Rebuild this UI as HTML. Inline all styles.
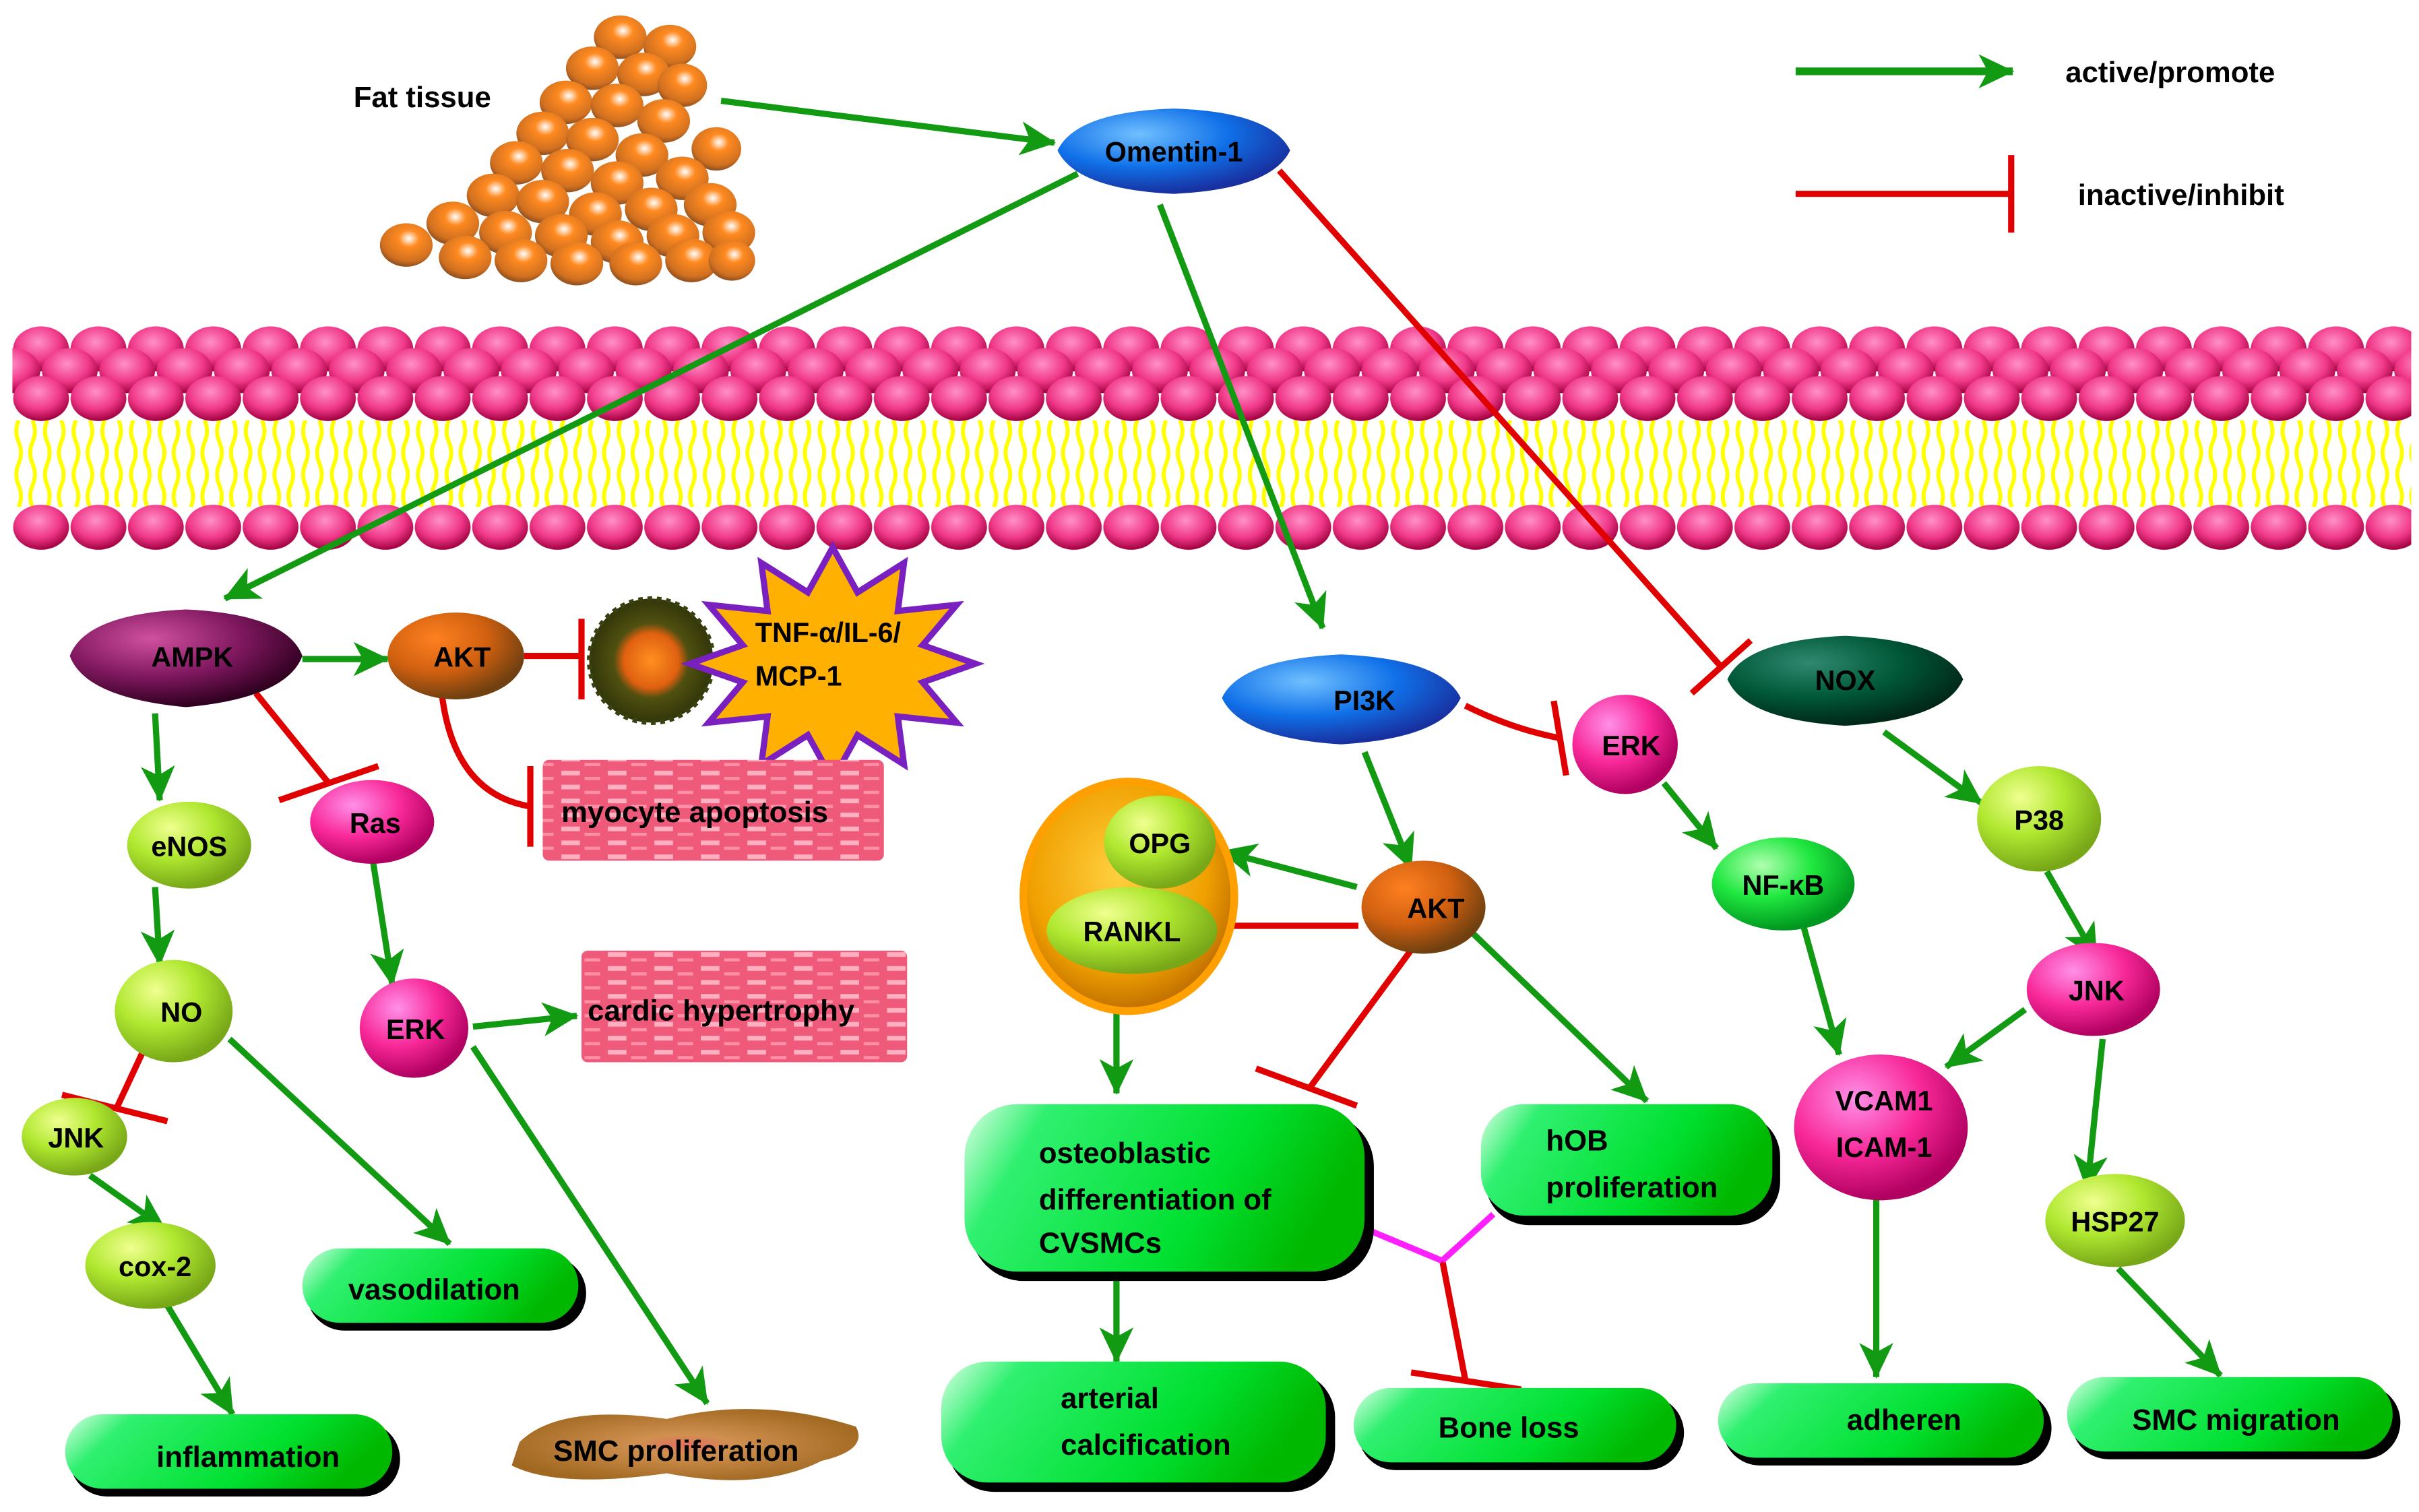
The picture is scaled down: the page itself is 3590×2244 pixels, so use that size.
<!DOCTYPE html>
<html><head><meta charset="utf-8"><style>
html,body{margin:0;padding:0;background:#fff;}
svg{display:block;}
text{font-family:"Liberation Sans",Arial,sans-serif;font-weight:bold;fill:#000;}
</style></head><body>
<svg width="3590" height="2244" viewBox="0 0 1560 975" preserveAspectRatio="none" xmlns="http://www.w3.org/2000/svg">
<defs>
<radialGradient id="ball" cx="45%" cy="35%" r="65%"><stop offset="0" stop-color="#ff90c8"/><stop offset="0.6" stop-color="#f03888"/><stop offset="1" stop-color="#a00040"/></radialGradient>
<radialGradient id="fat" cx="55%" cy="35%" r="65%"><stop offset="0" stop-color="#ffffff"/><stop offset="0.3" stop-color="#ff8a20"/><stop offset="0.8" stop-color="#d07020"/><stop offset="1" stop-color="#905020"/></radialGradient>
<pattern id="heads" patternUnits="userSpaceOnUse" x="8" y="205" width="37" height="90">
<ellipse cx="18.5" cy="20" rx="18" ry="14.5" fill="url(#ball)"/>
<ellipse cx="0" cy="34" rx="18" ry="14.5" fill="url(#ball)"/>
<ellipse cx="37" cy="34" rx="18" ry="14.5" fill="url(#ball)"/>
<ellipse cx="18.5" cy="52" rx="18" ry="14.5" fill="url(#ball)"/>
</pattern>
<pattern id="heads2" patternUnits="userSpaceOnUse" x="8" y="320" width="37" height="45">
<ellipse cx="18.5" cy="20" rx="18" ry="14.5" fill="url(#ball)"/>
</pattern>
<pattern id="tails" patternUnits="userSpaceOnUse" x="8" y="271" width="18.5" height="56">
<path d="M4,0 Q1,7 4,14 Q7,21 4,28 Q1,35 4,42 Q7,49 4,56" stroke="#ffff00" stroke-width="2.6" fill="none"/>
<path d="M13,0 Q16,7 13,14 Q10,21 13,28 Q16,35 13,42 Q10,49 13,56" stroke="#ffff00" stroke-width="2.6" fill="none"/>
</pattern>
<pattern id="muscle" patternUnits="userSpaceOnUse" width="30" height="9">
<rect width="30" height="9" fill="#f05a7a"/>
<rect x="2" y="2" width="12" height="3" fill="#ffb0c0"/>
<rect x="17" y="6" width="10" height="2" fill="#ff90a8"/>
</pattern>
<radialGradient id="gBlue" cx="35%" cy="30%" r="70%"><stop offset="0" stop-color="#70c0ff"/><stop offset="0.55" stop-color="#1070e8"/><stop offset="1" stop-color="#1830a0"/></radialGradient>
<radialGradient id="gPur" cx="35%" cy="30%" r="70%"><stop offset="0" stop-color="#d050a0"/><stop offset="0.55" stop-color="#801860"/><stop offset="1" stop-color="#300020"/></radialGradient>
<radialGradient id="gOra" cx="35%" cy="30%" r="70%"><stop offset="0" stop-color="#ff8020"/><stop offset="0.55" stop-color="#d06010"/><stop offset="1" stop-color="#704010"/></radialGradient>
<radialGradient id="gYg" cx="35%" cy="30%" r="70%"><stop offset="0" stop-color="#f0ff90"/><stop offset="0.5" stop-color="#b0e830"/><stop offset="1" stop-color="#78a818"/></radialGradient>
<radialGradient id="gPink" cx="35%" cy="30%" r="70%"><stop offset="0" stop-color="#ff90e8"/><stop offset="0.55" stop-color="#f82898"/><stop offset="1" stop-color="#b00060"/></radialGradient>
<radialGradient id="gGrn" cx="35%" cy="30%" r="70%"><stop offset="0" stop-color="#b0ffb0"/><stop offset="0.5" stop-color="#20e840"/><stop offset="1" stop-color="#009820"/></radialGradient>
<radialGradient id="gDk" cx="35%" cy="30%" r="70%"><stop offset="0" stop-color="#308870"/><stop offset="0.55" stop-color="#005838"/><stop offset="1" stop-color="#002818"/></radialGradient>
<radialGradient id="gOC" cx="45%" cy="40%" r="60%"><stop offset="0" stop-color="#ffd040"/><stop offset="0.7" stop-color="#f0a000"/><stop offset="1" stop-color="#c07000"/></radialGradient>
<radialGradient id="gCell" cx="50%" cy="50%" r="55%"><stop offset="0" stop-color="#ff9020"/><stop offset="0.4" stop-color="#e06010"/><stop offset="0.55" stop-color="#505010"/><stop offset="1" stop-color="#2a3008"/></radialGradient>
<radialGradient id="gSmc" cx="50%" cy="50%" r="55%"><stop offset="0" stop-color="#e07060"/><stop offset="0.25" stop-color="#d09050"/><stop offset="1" stop-color="#a06820"/></radialGradient>
<linearGradient id="box" x1="0" y1="0" x2="1" y2="0.25"><stop offset="0" stop-color="#e0ffe8"/><stop offset="0.2" stop-color="#30f070"/><stop offset="0.7" stop-color="#00e030"/><stop offset="1" stop-color="#00b800"/></linearGradient>
<marker id="ah" markerUnits="userSpaceOnUse" markerWidth="30" markerHeight="26" refX="22" refY="11" orient="auto">
<path d="M0,0 L23,11 L0,22 L6,11 Z" fill="#139a13"/>
</marker>
</defs>

<!-- membrane -->
<rect x="8" y="271" width="1547" height="56" fill="url(#tails)"/>
<rect x="8" y="205" width="1547" height="82" fill="url(#heads)"/>
<rect x="8" y="324" width="1547" height="34" fill="url(#heads2)"/>

<!-- fat tissue -->
<g fill="url(#fat)">
<ellipse cx="400" cy="24" rx="17" ry="14"/><ellipse cx="432" cy="30" rx="17" ry="14"/>
<ellipse cx="382" cy="44" rx="17" ry="14"/><ellipse cx="415" cy="48" rx="17" ry="14"/><ellipse cx="440" cy="55" rx="16" ry="14"/>
<ellipse cx="365" cy="66" rx="17" ry="14"/><ellipse cx="398" cy="68" rx="17" ry="14"/><ellipse cx="428" cy="78" rx="17" ry="14"/>
<ellipse cx="350" cy="86" rx="17" ry="14"/><ellipse cx="382" cy="90" rx="17" ry="14"/><ellipse cx="414" cy="100" rx="17" ry="14"/><ellipse cx="462" cy="96" rx="16" ry="14"/>
<ellipse cx="333" cy="105" rx="17" ry="14"/><ellipse cx="366" cy="110" rx="17" ry="14"/><ellipse cx="398" cy="118" rx="17" ry="14"/><ellipse cx="440" cy="115" rx="17" ry="14"/>
<ellipse cx="318" cy="126" rx="17" ry="14"/><ellipse cx="350" cy="130" rx="17" ry="14"/><ellipse cx="384" cy="138" rx="17" ry="14"/><ellipse cx="420" cy="135" rx="17" ry="14"/><ellipse cx="458" cy="132" rx="17" ry="14"/>
<ellipse cx="292" cy="144" rx="17" ry="14"/><ellipse cx="326" cy="150" rx="17" ry="14"/><ellipse cx="362" cy="152" rx="17" ry="14"/><ellipse cx="398" cy="156" rx="17" ry="14"/><ellipse cx="434" cy="152" rx="17" ry="14"/><ellipse cx="470" cy="150" rx="17" ry="14"/>
<ellipse cx="262" cy="158" rx="17" ry="14"/><ellipse cx="300" cy="166" rx="17" ry="14"/><ellipse cx="336" cy="168" rx="17" ry="14"/><ellipse cx="372" cy="170" rx="17" ry="14"/><ellipse cx="410" cy="170" rx="17" ry="14"/><ellipse cx="446" cy="168" rx="17" ry="14"/><ellipse cx="472" cy="168" rx="15" ry="13"/>
</g>
<text x="228" y="69" font-size="19">Fat tissue</text>

<!-- legend -->
<line x1="1158" y1="46" x2="1298" y2="46" stroke="#139a13" stroke-width="5" marker-end="url(#ah)"/>
<text x="1332" y="53" font-size="19">active/promote</text>
<line x1="1158" y1="125" x2="1296" y2="125" stroke="#e00000" stroke-width="4"/>
<line x1="1297" y1="100" x2="1297" y2="150" stroke="#e00000" stroke-width="4"/>
<text x="1340" y="132" font-size="19">inactive/inhibit</text>

<!-- connectors -->
<g stroke="#139a13" stroke-width="4" fill="none" marker-end="url(#ah)">
<line x1="465" y1="65" x2="680" y2="92"/>
<line x1="695" y1="112" x2="145" y2="386"/>
<line x1="748" y1="132" x2="853" y2="405"/>
<line x1="195" y1="425" x2="250" y2="425"/>
<line x1="100" y1="460" x2="103" y2="516"/>
<line x1="100" y1="572" x2="103" y2="622"/>
<line x1="240" y1="552" x2="253" y2="635"/>
<line x1="305" y1="662" x2="372" y2="655"/>
<line x1="305" y1="675" x2="456" y2="905"/>
<line x1="58" y1="758" x2="106" y2="792"/>
<line x1="148" y1="670" x2="290" y2="802"/>
<line x1="108" y1="842" x2="150" y2="912"/>
<line x1="880" y1="485" x2="910" y2="560"/>
<line x1="875" y1="572" x2="788" y2="549"/>
<line x1="720" y1="645" x2="720" y2="705"/>
<line x1="950" y1="602" x2="1062" y2="710"/>
<line x1="720" y1="820" x2="720" y2="878"/>
<line x1="1073" y1="505" x2="1107" y2="547"/>
<line x1="1163" y1="597" x2="1186" y2="680"/>
<line x1="1215" y1="472" x2="1278" y2="518"/>
<line x1="1320" y1="562" x2="1352" y2="618"/>
<line x1="1306" y1="651" x2="1255" y2="688"/>
<line x1="1356" y1="670" x2="1346" y2="767"/>
<line x1="1366" y1="818" x2="1432" y2="887"/>
<line x1="1210" y1="770" x2="1210" y2="888"/>
</g>
<g stroke="#e00000" stroke-width="4" fill="none">
<line x1="825" y1="110" x2="1110" y2="430"/><line x1="1091" y1="447" x2="1129" y2="413"/>
<line x1="338" y1="423" x2="375" y2="423"/><line x1="375" y1="399" x2="375" y2="451"/>
<line x1="165" y1="447" x2="212" y2="505"/><line x1="180" y1="516" x2="244" y2="494"/>
<path d="M285,448 Q293,512 342,520"/><line x1="342" y1="494" x2="342" y2="546"/>
<line x1="95" y1="672" x2="75" y2="715"/><line x1="40" y1="706" x2="108" y2="723"/>
<path d="M945,455 Q975,470 1006,476"/><line x1="1002" y1="452" x2="1010" y2="500"/>
<line x1="876" y1="597" x2="784" y2="597"/><line x1="784" y1="574" x2="784" y2="621"/>
<line x1="912" y1="610" x2="845" y2="701"/><line x1="810" y1="689" x2="875" y2="713"/>
<line x1="930" y1="812" x2="945" y2="890"/><line x1="910" y1="885" x2="981" y2="896"/>
</g>
<g stroke="#ff20ff" stroke-width="4" fill="none">
<line x1="882" y1="793" x2="930" y2="813"/><line x1="963" y1="783" x2="930" y2="813"/>
</g>

<!-- nodes -->
<path d="M757,70 Q820,72 832,97 Q820,122 757,125 Q694,122 682,97 Q694,72 757,70Z" fill="url(#gBlue)"/>
<text x="757" y="104" font-size="18" text-anchor="middle">Omentin-1</text>

<path d="M120,393 Q185,396 195,423 Q185,450 120,456 Q55,450 45,423 Q55,396 120,393Z" fill="url(#gPur)"/>
<text x="124" y="430" font-size="18" text-anchor="middle">AMPK</text>
<ellipse cx="294" cy="423" rx="44" ry="28" fill="url(#gOra)"/>
<text x="298" y="430" font-size="18" text-anchor="middle">AKT</text>

<circle cx="420" cy="426" r="40" fill="url(#gCell)" stroke="#3a4010" stroke-width="3" stroke-dasharray="3 3"/>
<polygon points="629,428 595,440 617,466 579,462 583,493 553,474 537,503 521,474 491,493 495,462 457,466 479,440 445,428 479,416 457,390 495,394 491,363 521,382 537,353 553,382 583,363 579,394 617,390 595,416" fill="#ffb000" stroke="#7a20c0" stroke-width="4" stroke-linejoin="miter"/>
<text x="487" y="414" font-size="18">TNF-α/IL-6/</text>
<text x="487" y="442" font-size="18">MCP-1</text>

<rect x="350" y="490" width="220" height="65" rx="4" fill="url(#muscle)"/>
<text x="362" y="530" font-size="19">myocyte apoptosis</text>
<rect x="375" y="613" width="210" height="72" rx="4" fill="url(#muscle)"/>
<text x="379" y="658" font-size="19">cardic hypertrophy</text>

<ellipse cx="122" cy="545" rx="40" ry="28" fill="url(#gYg)"/>
<text x="122" y="552" font-size="18" text-anchor="middle">eNOS</text>
<ellipse cx="240" cy="530" rx="40" ry="27" fill="url(#gPink)"/>
<text x="242" y="537" font-size="18" text-anchor="middle">Ras</text>
<ellipse cx="112" cy="652" rx="38" ry="33" fill="url(#gYg)"/>
<text x="117" y="659" font-size="18" text-anchor="middle">NO</text>
<ellipse cx="267" cy="663" rx="35" ry="32" fill="url(#gPink)"/>
<text x="268" y="670" font-size="18" text-anchor="middle">ERK</text>
<ellipse cx="48" cy="733" rx="34" ry="25" fill="url(#gYg)"/>
<text x="49" y="740" font-size="18" text-anchor="middle">JNK</text>
<ellipse cx="97" cy="816" rx="42" ry="28" fill="url(#gYg)"/>
<text x="100" y="823" font-size="18" text-anchor="middle">cox-2</text>

<path d="M335,930 Q360,905 430,915 Q490,900 552,920 Q560,935 530,942 Q490,962 430,950 Q360,960 330,945Z" fill="url(#gSmc)"/>
<text x="436" y="942" font-size="19" text-anchor="middle">SMC proliferation</text>

<path d="M865,422 Q930,425 942,450 Q930,476 865,480 Q800,476 788,450 Q800,425 865,422Z" fill="url(#gBlue)"/>
<text x="880" y="458" font-size="18" text-anchor="middle">PI3K</text>
<path d="M1190,410 Q1255,413 1266,438 Q1255,464 1190,468 Q1125,464 1114,438 Q1125,413 1190,410Z" fill="url(#gDk)"/>
<text x="1190" y="445" font-size="18" text-anchor="middle">NOX</text>
<ellipse cx="1048" cy="480" rx="34" ry="32" fill="url(#gPink)"/>
<text x="1052" y="487" font-size="18" text-anchor="middle">ERK</text>

<ellipse cx="728" cy="578" rx="68" ry="74" fill="url(#gOC)" stroke="#ffa000" stroke-width="5"/>
<ellipse cx="748" cy="543" rx="36" ry="30" fill="url(#gYg)"/>
<text x="748" y="550" font-size="18" text-anchor="middle">OPG</text>
<ellipse cx="730" cy="600" rx="55" ry="28" fill="url(#gYg)"/>
<text x="730" y="607" font-size="18" text-anchor="middle">RANKL</text>
<ellipse cx="918" cy="585" rx="40" ry="30" fill="url(#gOra)"/>
<text x="926" y="592" font-size="18" text-anchor="middle">AKT</text>

<ellipse cx="1150" cy="570" rx="46" ry="30" fill="url(#gGrn)"/>
<text x="1150" y="577" font-size="18" text-anchor="middle">NF-κB</text>
<ellipse cx="1315" cy="528" rx="40" ry="34" fill="url(#gYg)"/>
<text x="1315" y="535" font-size="18" text-anchor="middle">P38</text>
<ellipse cx="1350" cy="638" rx="43" ry="30" fill="url(#gPink)"/>
<text x="1352" y="645" font-size="18" text-anchor="middle">JNK</text>
<ellipse cx="1213" cy="727" rx="56" ry="47" fill="url(#gPink)"/>
<text x="1215" y="716" font-size="18" text-anchor="middle">VCAM1</text>
<text x="1215" y="746" font-size="18" text-anchor="middle">ICAM-1</text>
<ellipse cx="1364" cy="787" rx="45" ry="30" fill="url(#gYg)"/>
<text x="1364" y="794" font-size="18" text-anchor="middle">HSP27</text>

<!-- result boxes -->
<g>
<rect x="198" y="810" width="180" height="48" rx="24" fill="#000"/>
<rect x="195" y="805" width="178" height="48" rx="24" fill="url(#box)"/>
<text x="280" y="838" font-size="19" text-anchor="middle">vasodilation</text>
<rect x="45" y="917" width="213" height="48" rx="24" fill="#000"/>
<rect x="42" y="912" width="211" height="48" rx="24" fill="url(#box)"/>
<text x="160" y="946" font-size="19" text-anchor="middle">inflammation</text>
<rect x="626" y="718" width="260" height="108" rx="34" fill="#000"/>
<rect x="622" y="712" width="258" height="108" rx="34" fill="url(#box)"/>
<text x="670" y="750" font-size="19">osteoblastic</text>
<text x="670" y="780" font-size="19">differentiation of</text>
<text x="670" y="808" font-size="19">CVSMCs</text>
<rect x="958" y="718" width="190" height="72" rx="28" fill="#000"/>
<rect x="955" y="712" width="188" height="72" rx="28" fill="url(#box)"/>
<text x="997" y="742" font-size="19">hOB</text>
<text x="997" y="772" font-size="19">proliferation</text>
<rect x="611" y="884" width="250" height="78" rx="30" fill="#000"/>
<rect x="607" y="878" width="248" height="78" rx="30" fill="url(#box)"/>
<text x="684" y="908" font-size="19">arterial</text>
<text x="684" y="938" font-size="19">calcification</text>
<rect x="876" y="900" width="210" height="48" rx="24" fill="#000"/>
<rect x="873" y="895" width="208" height="48" rx="24" fill="url(#box)"/>
<text x="973" y="927" font-size="19" text-anchor="middle">Bone loss</text>
<rect x="1111" y="897" width="212" height="48" rx="24" fill="#000"/>
<rect x="1108" y="892" width="210" height="48" rx="24" fill="url(#box)"/>
<text x="1228" y="922" font-size="19" text-anchor="middle">adheren</text>
<rect x="1336" y="893" width="212" height="48" rx="24" fill="#000"/>
<rect x="1333" y="888" width="210" height="48" rx="24" fill="url(#box)"/>
<text x="1442" y="922" font-size="19" text-anchor="middle">SMC migration</text>
</g>
</svg>
</body></html>
